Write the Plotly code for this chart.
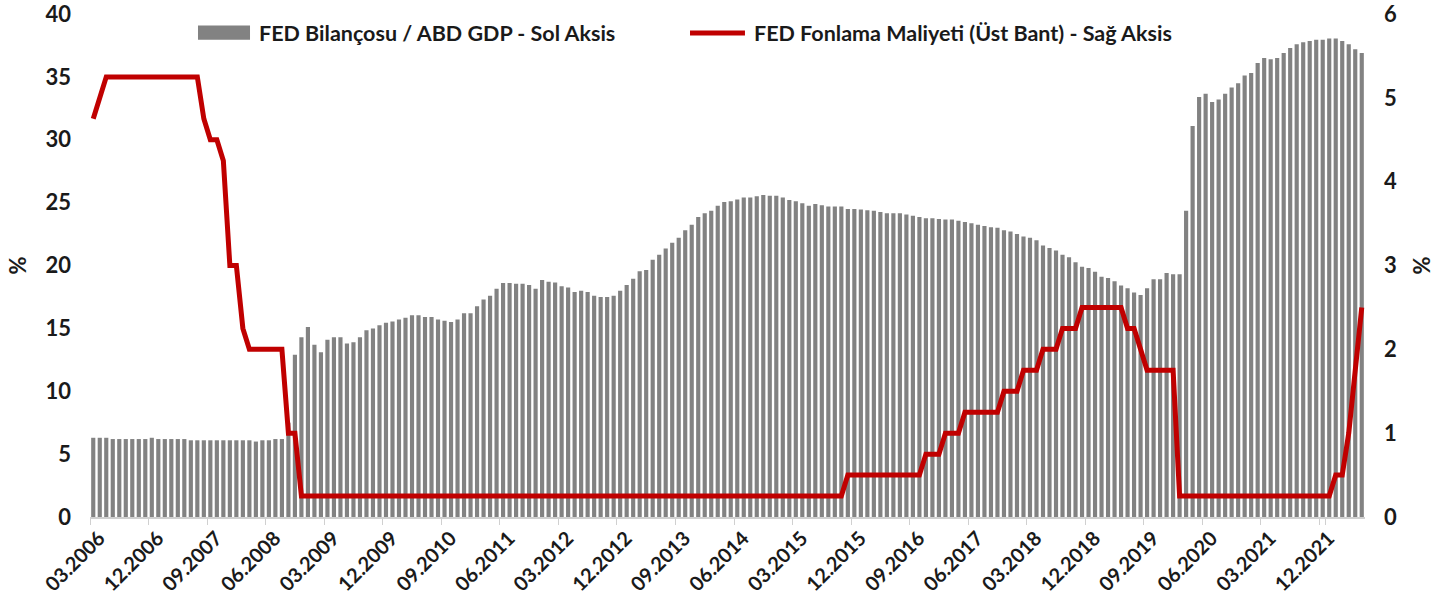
import pandas as pd
import plotly.graph_objects as go

# aylık kategoriler: 03.2006 - 06.2022
MONTHS = [p.strftime("%m.%Y") for p in pd.period_range("2006-03", "2022-06", freq="M")]

TICK_LABELS = [
    "03.2006", "12.2006", "09.2007", "06.2008", "03.2009", "12.2009",
    "09.2010", "06.2011", "03.2012", "12.2012", "09.2013", "06.2014",
    "03.2015", "12.2015", "09.2016", "06.2017", "03.2018", "12.2018",
    "09.2019", "06.2020", "03.2021", "12.2021",
]

# FED bilançosu / ABD GDP (%) - sol eksen
BALANCE_GDP = [
    6.3, 6.3, 6.3, 6.2, 6.2, 6.2, 6.2, 6.2, 6.2, 6.3,
    6.2, 6.2, 6.2, 6.2, 6.2, 6.1, 6.1, 6.1, 6.1, 6.1,
    6.1, 6.1, 6.1, 6.1, 6.1, 6.0, 6.1, 6.1, 6.2, 6.2,
    7.5, 12.9, 14.3, 15.1, 13.7, 13.1, 14.1, 14.3, 14.3, 13.8,
    13.9, 14.3, 14.85, 15.0, 15.25, 15.45, 15.55, 15.7, 15.85, 16.05,
    16.05, 15.9, 15.9, 15.7, 15.6, 15.5, 15.7, 16.2, 16.2, 16.75,
    17.3, 17.6, 18.15, 18.6, 18.6, 18.55, 18.55, 18.45, 18.15, 18.85,
    18.7, 18.65, 18.35, 18.25, 17.9, 18.0, 17.9, 17.6, 17.5, 17.5,
    17.6, 18.0, 18.45, 18.95, 19.55, 19.65, 20.45, 20.85, 21.35, 21.8,
    22.2, 22.8, 23.25, 23.85, 24.15, 24.35, 24.75, 25.05, 25.1, 25.25,
    25.4, 25.4, 25.5, 25.6, 25.55, 25.55, 25.4, 25.2, 25.1, 24.95,
    24.75, 24.9, 24.8, 24.7, 24.7, 24.7, 24.5, 24.5, 24.45, 24.4,
    24.35, 24.25, 24.15, 24.15, 24.15, 24.05, 23.95, 23.85, 23.75, 23.75,
    23.7, 23.65, 23.65, 23.55, 23.45, 23.35, 23.25, 23.15, 23.05, 23.0,
    22.8, 22.7, 22.5, 22.3, 22.2, 22.0, 21.6, 21.4, 21.2, 20.85,
    20.65, 20.25, 19.9, 19.8, 19.5, 19.1, 19.0, 18.75, 18.4, 18.2,
    17.85, 17.65, 18.2, 18.9, 18.9, 19.4, 19.3, 19.3, 24.35, 31.1,
    33.4, 33.65, 33.0, 33.2, 33.65, 34.15, 34.5, 35.1, 35.3, 36.1,
    36.5, 36.4, 36.5, 36.9, 37.3, 37.6, 37.75, 37.85, 37.95, 37.95,
    38.05, 38.05, 37.85, 37.6, 37.2, 36.9,
]

# FED fonlama maliyeti, üst bant (%) - sağ eksen
FED_RATE_UPPER = [
    4.75, 5.0, 5.25, 5.25, 5.25, 5.25, 5.25, 5.25, 5.25, 5.25,
    5.25, 5.25, 5.25, 5.25, 5.25, 5.25, 5.25, 4.75, 4.5, 4.5,
    4.25, 3.0, 3.0, 2.25, 2.0, 2.0, 2.0, 2.0, 2.0, 2.0,
    1.0, 1.0, 0.25, 0.25, 0.25, 0.25, 0.25, 0.25, 0.25, 0.25,
    0.25, 0.25, 0.25, 0.25, 0.25, 0.25, 0.25, 0.25, 0.25, 0.25,
    0.25, 0.25, 0.25, 0.25, 0.25, 0.25, 0.25, 0.25, 0.25, 0.25,
    0.25, 0.25, 0.25, 0.25, 0.25, 0.25, 0.25, 0.25, 0.25, 0.25,
    0.25, 0.25, 0.25, 0.25, 0.25, 0.25, 0.25, 0.25, 0.25, 0.25,
    0.25, 0.25, 0.25, 0.25, 0.25, 0.25, 0.25, 0.25, 0.25, 0.25,
    0.25, 0.25, 0.25, 0.25, 0.25, 0.25, 0.25, 0.25, 0.25, 0.25,
    0.25, 0.25, 0.25, 0.25, 0.25, 0.25, 0.25, 0.25, 0.25, 0.25,
    0.25, 0.25, 0.25, 0.25, 0.25, 0.25, 0.5, 0.5, 0.5, 0.5,
    0.5, 0.5, 0.5, 0.5, 0.5, 0.5, 0.5, 0.5, 0.75, 0.75,
    0.75, 1.0, 1.0, 1.0, 1.25, 1.25, 1.25, 1.25, 1.25, 1.25,
    1.5, 1.5, 1.5, 1.75, 1.75, 1.75, 2.0, 2.0, 2.0, 2.25,
    2.25, 2.25, 2.5, 2.5, 2.5, 2.5, 2.5, 2.5, 2.5, 2.25,
    2.25, 2.0, 1.75, 1.75, 1.75, 1.75, 1.75, 0.25, 0.25, 0.25,
    0.25, 0.25, 0.25, 0.25, 0.25, 0.25, 0.25, 0.25, 0.25, 0.25,
    0.25, 0.25, 0.25, 0.25, 0.25, 0.25, 0.25, 0.25, 0.25, 0.25,
    0.25, 0.5, 0.5, 1.0, 1.75, 2.5,
]

BAR_NAME = "FED Bilançosu / ABD GDP - Sol Aksis"
LINE_NAME = "FED Fonlama Maliyeti (Üst Bant) - Sağ Aksis"

FONT = "Lato, 'Open Sans', sans-serif"
TXT = "#1a1a1a"
GRAY = "#828282"
RED = "#C00000"

fig = go.Figure()
fig.add_trace(go.Bar(x=MONTHS, y=BALANCE_GDP, name=BAR_NAME,
                     marker=dict(color=GRAY, line=dict(width=0)),
                     yaxis="y"))
fig.add_trace(go.Scatter(x=MONTHS, y=FED_RATE_UPPER, name=LINE_NAME,
                         mode="lines", line=dict(color=RED, width=5),
                         yaxis="y2"))

tick_font = dict(family=FONT, size=22, color=TXT, weight="bold")

fig.update_layout(
    width=1450, height=614,
    margin=dict(l=90, r=85, t=14, b=97, autoexpand=False),
    paper_bgcolor="white", plot_bgcolor="white",
    bargap=0.36,
    showlegend=False,
    xaxis=dict(
        type="category", categoryorder="array", categoryarray=MONTHS,
        tickmode="array", tickvals=TICK_LABELS, ticktext=TICK_LABELS,
        tickangle=-45, tickson="boundaries", automargin=False,
        ticks="outside", ticklen=6, tickcolor="#d0d0d0",
        showline=True, linecolor="#d0d0d0", linewidth=1.5,
        ticklabeloverflow="allow", ticklabelshift=6,
        showgrid=False, tickfont=dict(family=FONT, size=20, color=TXT, weight="bold"),
    ),
    yaxis=dict(
        range=[0, 40], dtick=5, showgrid=False, zeroline=False,
        tickfont=tick_font, ticklabelstandoff=18, automargin=False,
        ticklabeloverflow="allow",
        title=dict(text="%", font=tick_font, standoff=12),
    ),
    yaxis2=dict(
        range=[0, 6], dtick=1, overlaying="y", side="right",
        showgrid=False, zeroline=False, automargin=False,
        tickfont=tick_font, ticklabelstandoff=18,
        ticklabeloverflow="allow",
        title=dict(text="%", font=tick_font, standoff=18),
    ),
)

# lejant: üstte, elle yerleştirilmiş
leg_font = dict(family=FONT, size=21.5, color=TXT, weight="bold")
fig.add_shape(type="rect", xref="paper", yref="paper",
              x0=0.0847, x1=0.1255, y0=0.949, y1=0.977,
              fillcolor=GRAY, line=dict(width=0))
fig.add_annotation(x=0.131, y=0.962, xref="paper", yref="paper",
                   text=BAR_NAME, showarrow=False, xanchor="left",
                   yanchor="middle", font=leg_font)
fig.add_shape(type="line", xref="paper", yref="paper",
              x0=0.4706, x1=0.5137, y0=0.962, y1=0.962,
              line=dict(color=RED, width=5))
fig.add_annotation(x=0.519, y=0.962, xref="paper", yref="paper",
                   text=LINE_NAME, showarrow=False, xanchor="left",
                   yanchor="middle", font=leg_font)

fig.write_html("out.html", config={"displayModeBar": False},
               post_script="document.body.style.margin='0';")
